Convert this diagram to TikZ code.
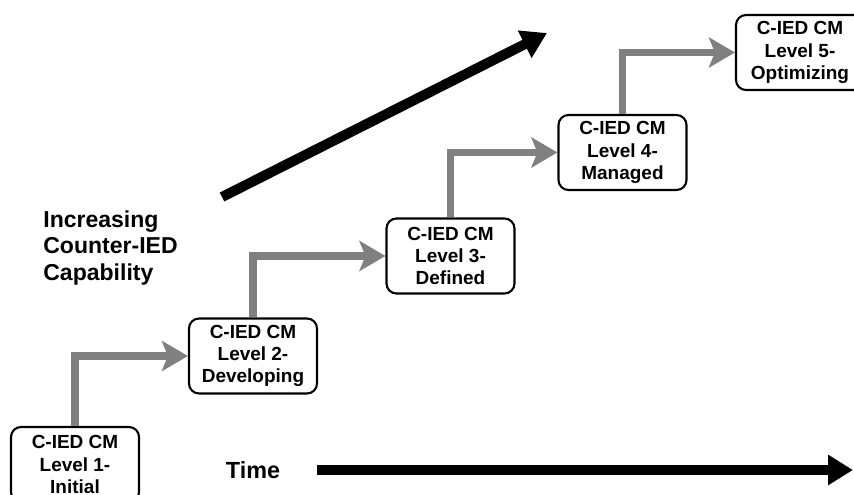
\documentclass[tikz,border=0pt]{standalone}
\usepackage{fontspec}
\setmainfont{Liberation Sans}
\usetikzlibrary{arrows.meta}
\definecolor{StepGray}{HTML}{808080}

\tikzset{
  cmbox/.style={draw=black,line width=1.2pt,rounded corners=0.2cm,fill=white,
    minimum width=2.56cm,minimum height=1.5cm,inner sep=0pt,align=center,
    font=\fontsize{10.8}{12.6}\selectfont\bfseries},
  climb/.style={StepGray,line width=4.5pt,
    -{Stealth[length=0.52cm,width=0.6cm,inset=0.12cm]}},
  bigarrow/.style={black,line width=5.7pt,
    -{Triangle[length=0.5cm,width=0.58cm]}}
}

\begin{document}
\begin{tikzpicture}
    \useasboundingbox (0,0) rectangle (17.08,9.9);
    \clip (0,0) rectangle (17.08,9.9);
    % maturity levels
    \node[cmbox] (l1) at (1.50,0.61) {C-IED CM\\Level 1-\\Initial};
    \node[cmbox] (l2) at (5.06,2.78) {C-IED CM\\Level 2-\\Developing};
    \node[cmbox] (l3) at (9.01,4.78) {C-IED CM\\Level 3-\\Defined};
    \node[cmbox] (l4) at (12.45,6.85) {C-IED CM\\Level 4-\\Managed};
    \node[cmbox] (l5) at (16.00,8.85) {C-IED CM\\Level 5-\\Optimizing};
    \draw[climb] (l1.north) |- (l2.west);
    \draw[climb] (l2.north) |- (l3.west);
    \draw[climb] (l3.north) |- (l4.west);
    \draw[climb] (l4.north) |- (l5.west);
    % axes
    \node[anchor=west,align=left,inner sep=0pt,font=\fontsize{13.1}{15.1}\selectfont\bfseries] (cap) at (0.86,4.94)
      {Increasing\\Counter-IED\\Capability};
    \node[inner sep=0pt,font=\fontsize{13.3}{15}\selectfont\bfseries] (time) at (5.06,0.50) {Time};
    \coordinate (ts) at (6.34,0.50);
    \coordinate (te) at (17.06,0.50);
    \coordinate (cs) at (4.44,5.96);
    \coordinate (ce) at (10.94,9.24);
    \draw[bigarrow] (ts) -- (te);
    \draw[bigarrow] (cs) -- (ce);
  \end{tikzpicture}
\end{document}
